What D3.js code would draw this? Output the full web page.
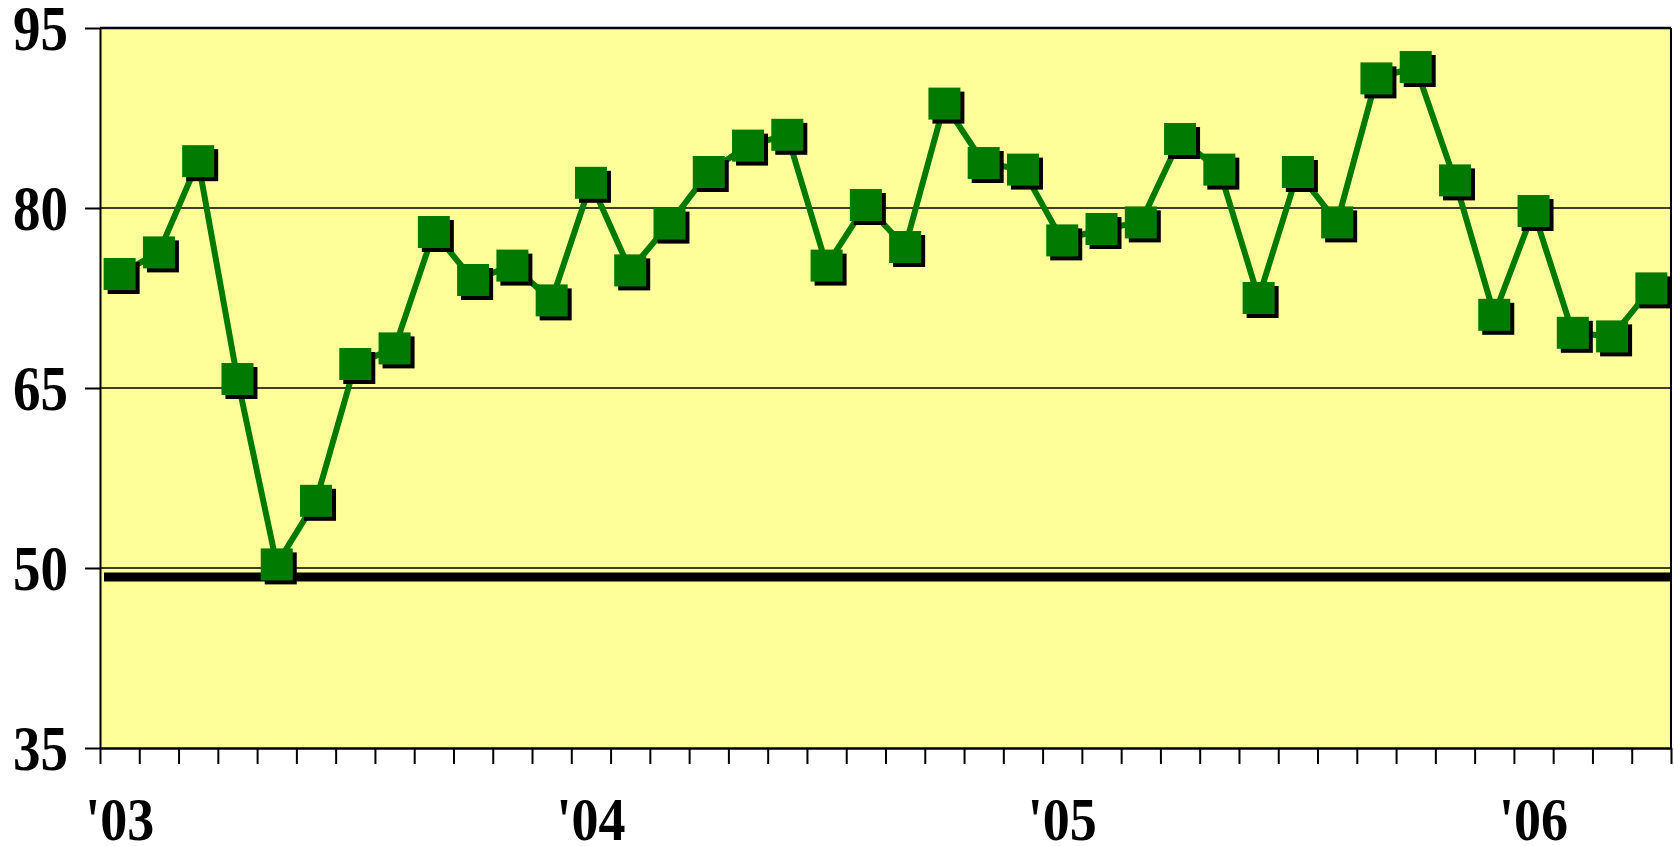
<!DOCTYPE html>
<html>
<head>
<meta charset="utf-8">
<script src="https://cdn.jsdelivr.net/npm/d3@7"></script>
<style>
  body { margin: 0; background: #fff; }
  text { font-family: "Liberation Serif", "Times New Roman", serif; font-weight: bold; }
</style>
</head>
<body>
<div id="chart"></div>
<script>
// months Jan 2003 .. Apr 2006
const months = [
  "2003-01","2003-02","2003-03","2003-04","2003-05","2003-06","2003-07","2003-08","2003-09","2003-10","2003-11","2003-12",
  "2004-01","2004-02","2004-03","2004-04","2004-05","2004-06","2004-07","2004-08","2004-09","2004-10","2004-11","2004-12",
  "2005-01","2005-02","2005-03","2005-04","2005-05","2005-06","2005-07","2005-08","2005-09","2005-10","2005-11","2005-12",
  "2006-01","2006-02","2006-03","2006-04"
];
const values = [
  74.5, 76.3, 83.9, 65.75, 50.3, 55.6, 67.0, 68.3, 78.0, 74.0, 75.2, 72.3,
  82.1, 74.8, 78.7, 83.0, 85.2, 86.1, 75.2, 80.25, 76.75, 88.7, 83.75, 83.2,
  77.3, 78.25, 78.8, 85.75, 83.2, 72.5, 83.0, 78.8, 90.8, 91.75, 82.3, 71.1,
  79.75, 69.6, 69.3, 73.3
];
const yearLabels = ["'03", "'04", "'05", "'06"];
const yearMonths = ["2003-01", "2004-01", "2005-01", "2006-01"];
const yTicks = [35, 50, 65, 80, 95];
const refValue = 49.25;

const margin = {top: 28, right: 3, bottom: 98, left: 100},
    width = 1674 - margin.left - margin.right,
    height = 846 - margin.top - margin.bottom;

const serif = "'Liberation Serif', 'Times New Roman', serif";

const svg = d3.select("#chart")
  .append("svg")
  .attr("width", 1674)
  .attr("height", 846)
  .append("g")
  .attr("transform", `translate(${margin.left},${margin.top})`);

const x = d3.scaleBand()
  .domain(months)
  .range([0, width])
  .padding(0);

const y = d3.scaleLinear()
  .domain([35, 95])
  .range([height, 0]);

// plot background
svg.append("rect")
  .attr("width", width)
  .attr("height", height)
  .attr("fill", "#FFFF99");

// gridlines
svg.append("g")
  .selectAll("line")
  .data(yTicks.filter(d => d > 35))
  .join("line")
  .attr("x1", 0)
  .attr("x2", width)
  .attr("y1", d => y(d))
  .attr("y2", d => y(d))
  .attr("stroke", "#000")
  .attr("stroke-width", d => d === 95 ? 2.5 : 1.5);

// right border
svg.append("line")
  .attr("x1", width).attr("x2", width)
  .attr("y1", 0).attr("y2", height)
  .attr("stroke", "#000")
  .attr("stroke-width", 2);

// Y axis
const yAxis = svg.append("g")
  .call(d3.axisLeft(y).tickValues(yTicks).tickSize(15).tickPadding(17).tickSizeOuter(0));
yAxis.attr("font-family", serif).attr("font-size", 55);
yAxis.select(".domain").attr("stroke-width", 2);
yAxis.selectAll(".tick line").attr("stroke-width", 2);
// the original lettering is a bit taller than plain Times
yAxis.selectAll(".tick text")
  .attr("font-weight", "bold")
  .attr("fill", "#000")
  .attr("dy", null)
  .attr("dominant-baseline", "central")
  .attr("transform", "scale(1,1.16)");

// X axis: ticks on month boundaries
const xb = d3.scaleLinear().domain([0, months.length]).range([0, width]);
const xAxis = svg.append("g")
  .attr("transform", `translate(0,${height})`)
  .call(d3.axisBottom(xb).tickValues(d3.range(months.length + 1)).tickFormat("").tickSize(16).tickSizeOuter(0));
xAxis.select(".domain").attr("stroke-width", 2.5);
xAxis.selectAll(".tick line").attr("stroke-width", 2);

// year labels
svg.append("g")
  .selectAll("text")
  .data(yearLabels)
  .join("text")
  .attr("transform", (d, i) => `translate(${x(yearMonths[i]) + x.bandwidth() / 2},${height + 92}) scale(1,1.15)`)
  .attr("text-anchor", "middle")
  .attr("font-family", serif)
  .attr("font-weight", "bold")
  .attr("font-size", 54)
  .attr("fill", "#000")
  .text(d => d);

// reference line
svg.append("line")
  .attr("x1", 4)
  .attr("x2", width)
  .attr("y1", y(refValue))
  .attr("y2", y(refValue))
  .attr("stroke", "#000")
  .attr("stroke-width", 9);

const data = months.map((m, i) => ({month: m, value: values[i]}));

// series line
svg.append("path")
  .datum(data)
  .attr("fill", "none")
  .attr("stroke", "#007A00")
  .attr("stroke-width", 6)
  .attr("stroke-linejoin", "round")
  .attr("d", d3.line()
    .x(d => x(d.month) + x.bandwidth() / 2)
    .y(d => y(d.value)));

const ms = 32;
// marker shadows
svg.append("g")
  .selectAll("rect")
  .data(data)
  .join("rect")
  .attr("x", d => x(d.month) + x.bandwidth() / 2 - ms / 2 + 4)
  .attr("y", d => y(d.value) - ms / 2 + 4)
  .attr("width", ms)
  .attr("height", ms)
  .attr("fill", "#000");

// markers
svg.append("g")
  .selectAll("rect")
  .data(data)
  .join("rect")
  .attr("x", d => x(d.month) + x.bandwidth() / 2 - ms / 2)
  .attr("y", d => y(d.value) - ms / 2)
  .attr("width", ms)
  .attr("height", ms)
  .attr("fill", "#007A00");
</script>
</body>
</html>
